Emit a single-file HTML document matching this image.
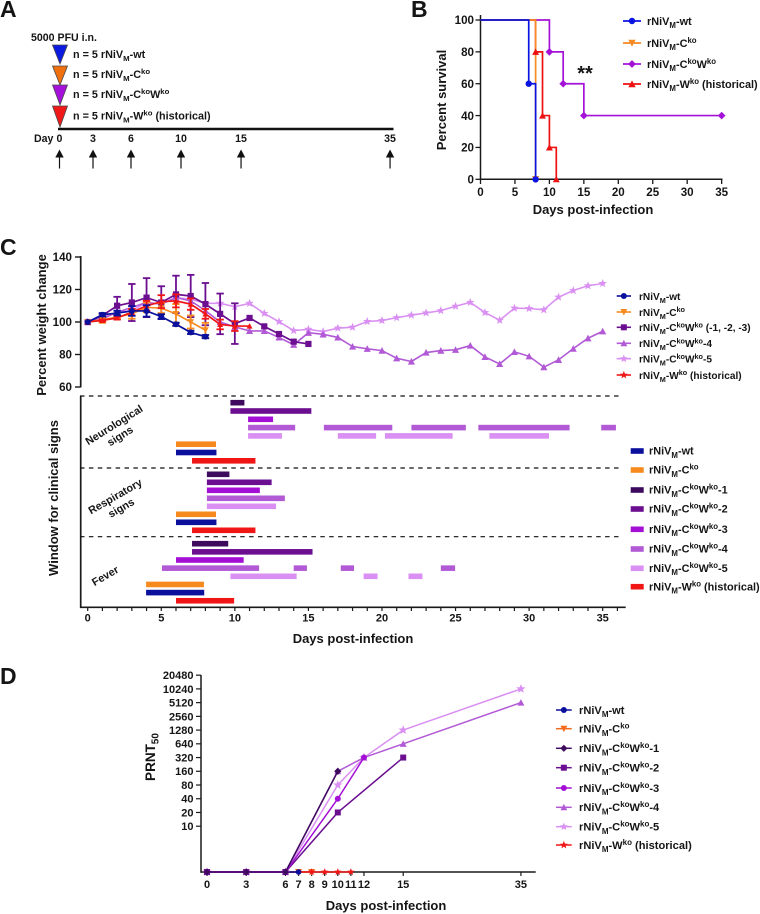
<!DOCTYPE html>
<html lang="en">
<head>
<meta charset="utf-8">
<title>Survival, weight, clinical signs and PRNT50 after rNiV infection</title>
<style>
html,body{margin:0;padding:0;background:#fff;}
svg{display:block;filter:blur(0.3px);}
text{font-family:"Liberation Sans",Arial,sans-serif;font-weight:bold;fill:#151515;}
</style>
</head>
<body>
<svg id="figure" xmlns="http://www.w3.org/2000/svg" width="760" height="914" viewBox="0 0 760 914">
<g id="panel-a"></g>
<g id="panel-b"></g>
<g id="panel-c"></g>
<g id="panel-d"></g>
</svg>
<script>
/* ---------- Panel A data ---------- */
const studyDays = [0, 3, 6, 10, 15, 35];
const studyGroups = ["n = 5 rNiV_{M}-wt", "n = 5 rNiV_{M}-C^{ko}", "n = 5 rNiV_{M}-C^{ko}W^{ko}", "n = 5 rNiV_{M}-W^{ko} (historical)"];

/* ---------- Panel B data ---------- */
const survivalTicksX = [0, 5, 10, 15, 20, 25, 30, 35];
const survivalTicksY = [0, 20, 40, 60, 80, 100];
const survivalWtDays = [0, 7, 8];
const survivalWtValues = [100, 60, 0];
const survivalCkoDays = [0, 8];
const survivalCkoValues = [100, 0];
const survivalCkoWkoDays = [0, 10, 12, 15, 35];
const survivalCkoWkoValues = [100, 80, 60, 40, 40];
const survivalWkoDays = [0, 8, 9, 10, 11];
const survivalWkoValues = [100, 80, 40, 20, 0];

/* ---------- Panel C weight data ---------- */
const weightTicksY = [60, 80, 100, 120, 140];
const weightWt = [100, 104.5, 105.5, 106.8, 106.8, 103.3, 98.6, 93.6, 91];
const weightWtErr = [0, 1, 1.5, 3, 3.5, 1.5, 1, 1, 1];
const weightCko = [100, 101.5, 103, 105, 109, 108.5, 105, 100, 95];
const weightCkoErr = [0, 2, 1, 3, 3, 3, 6, 4, 4.5];
const weightGroup123 = [100, 104, 110, 112, 115, 112, 117, 116, 111, 105, 99, 102.5, 97.3, 92.6, 87.9, 86.5];
const weightGroup123Err = [0, 1, 5.5, 11.4, 12, 10, 11.5, 13, 13, 12.5, 12.5, 0, 0, 0, 0, 0];
const weightGroup4 = [100, 102, 106, 109, 112, 111, 115, 113, 107, 100, 97, 94.5, 94.5, 90.5, 86, 93.4, 92.4, 90.5, 84.9, 83.5, 82.4, 77.7, 75.7, 81.2, 82.4, 82.9, 85.5, 78.5, 74.2, 81.6, 78.9, 72.2, 76.7, 83.6, 90, 94.3];
const weightGroup5 = [100, 103, 106, 107, 112, 111, 115, 114, 111.5, 111.5, 109.4, 111.5, 105.3, 100.2, 94.7, 95.5, 94.1, 96.2, 96.8, 100.3, 100.9, 102.7, 104.2, 105.6, 107, 109.7, 112.1, 105.8, 101.1, 108.5, 108.3, 107.5, 115.3, 119.4, 122.3, 123.7];
const weightWko = [100, 101, 102.5, 106, 110, 112.5, 113, 111, 105, 98.5, 97.5, 97.5];
const weightWkoErr = [0, 0.5, 1, 2, 3, 4, 4, 3.5, 3, 3, 3, 0];

/* ---------- Panel C clinical-sign windows (start day, end day) ---------- */
const signTicksX = [0, 5, 10, 15, 20, 25, 30, 35];
const neuroC1 = [[9.7, 10.65]];
const neuroC2 = [[9.7, 15.2]];
const neuroC3 = [[10.9, 12.6]];
const neuroC4 = [[10.9, 14.1], [16.05, 20.7], [22, 25.7], [26.55, 32.75], [34.9, 35.9]];
const neuroC5 = [[10.9, 13.2], [17, 19.6], [20.2, 24.8], [27.3, 31.35]];
const neuroCko = [[6, 8.72]];
const neuroWt = [[6, 8.75]];
const neuroWko = [[7.09, 11.4]];
const respC1 = [[8.1, 9.63]];
const respC2 = [[8.1, 12.5]];
const respC3 = [[8.1, 11.7]];
const respC4 = [[8.1, 13.4]];
const respC5 = [[8.1, 12.8]];
const respCko = [[6, 8.72]];
const respWt = [[6, 8.75]];
const respWko = [[7.09, 11.4]];
const feverC1 = [[7.09, 9.55]];
const feverC2 = [[7.09, 15.28]];
const feverC3 = [[6, 10.6]];
const feverC4 = [[5.05, 11.65], [14, 14.9], [17.2, 18.1], [24, 24.97]];
const feverC5 = [[9.7, 14.2], [18.75, 19.7], [21.8, 22.75]];
const feverCko = [[3.97, 7.9]];
const feverWt = [[3.97, 7.92]];
const feverWko = [[6, 9.95]];

/* ---------- Panel D data ---------- */
const prntTicksX = [0, 3, 6, 7, 8, 9, 10, 11, 12, 15, 35];
const prntTicksY = [10, 20, 40, 80, 160, 320, 640, 1280, 2560, 5120, 10240, 20480];
const prntWtDays = [0, 3, 6, 7];
const prntWtValues = [0, 0, 0, 0];
const prntCkoDays = [0, 3, 6, 7, 8];
const prntCkoValues = [0, 0, 0, 0, 0];
const prntC1Days = [0, 3, 6, 10];
const prntC1Values = [0, 0, 0, 160];
const prntC2Days = [0, 3, 6, 10, 15];
const prntC2Values = [0, 0, 0, 20, 320];
const prntC3Days = [0, 3, 6, 10, 12];
const prntC3Values = [0, 0, 0, 40, 320];
const prntC4Days = [0, 3, 6, 10, 12, 15, 35];
const prntC4Values = [0, 0, 0, 160, 320, 640, 5120];
const prntC5Days = [0, 3, 6, 10, 12, 15, 35];
const prntC5Values = [0, 0, 0, 80, 320, 1280, 10240];
const prntWkoDays = [0, 3, 6, 8, 9, 10, 11];
const prntWkoValues = [0, 0, 0, 0, 0, 0, 0];

/* ---------- Helpers ---------- */
const NS = "http://www.w3.org/2000/svg";
const INK = "#1a1a1a";

function make(tag, parent, name, attrs) {
  const node = document.createElementNS(NS, tag);
  for (const key in attrs) node.setAttribute(key, attrs[key]);
  
  
  parent.appendChild(node);
  return node;
}

/* Writes "a_{sub}b^{sup}" as real text with shifted tspans. */
function label(parent, name, str, x, y, size, anchor, transform) {
  const attrs = {x: x, y: y, "font-size": size, "text-anchor": anchor || "start"};
  if (transform) attrs.transform = transform;
  const node = make("text", parent, name, attrs);
  const parts = str.split(/(_\{[^}]*\}|\^\{[^}]*\})/).filter(Boolean);
  let offset = 0;
  parts.forEach(function (part) {
    const tspan = document.createElementNS(NS, "tspan");
    let target = 0;
    let content = part;
    if (part[0] === "_" && part[1] === "{") { target = size * 0.3; content = part.slice(2, -1); tspan.setAttribute("font-size", size * 0.72); }
    if (part[0] === "^" && part[1] === "{") { target = -size * 0.36; content = part.slice(2, -1); tspan.setAttribute("font-size", size * 0.72); }
    if (target !== offset) tspan.setAttribute("dy", target - offset);
    offset = target;
    tspan.textContent = content;
    node.appendChild(tspan);
  });
  return node;
}

function line(parent, name, x1, y1, x2, y2, color, width, dash) {
  const attrs = {x1: x1, y1: y1, x2: x2, y2: y2, stroke: color, "stroke-width": width};
  if (dash) attrs["stroke-dasharray"] = dash;
  return make("line", parent, name, attrs);
}

function starPoints(cx, cy, r) {
  const pts = [];
  for (let i = 0; i < 10; i++) {
    const rad = i % 2 ? r * 0.42 : r;
    const ang = -Math.PI / 2 + i * Math.PI / 5;
    pts.push((cx + rad * Math.cos(ang)).toFixed(2) + "," + (cy + rad * Math.sin(ang)).toFixed(2));
  }
  return pts.join(" ");
}

function marker(parent, name, shape, cx, cy, r, color) {
  if (shape === "circle") return make("circle", parent, name, {cx: cx, cy: cy, r: r, fill: color});
  if (shape === "square") return make("rect", parent, name, {x: cx - r, y: cy - r, width: 2 * r, height: 2 * r, fill: color});
  let pts = "";
  if (shape === "up") pts = [cx - r * 1.15, cy + r, cx, cy - r * 1.15, cx + r * 1.15, cy + r].join(" ");
  if (shape === "down") pts = [cx - r * 1.15, cy - r, cx, cy + r * 1.15, cx + r * 1.15, cy - r].join(" ");
  if (shape === "diamond") pts = [cx - r * 1.2, cy, cx, cy - r * 1.2, cx + r * 1.2, cy, cx, cy + r * 1.2].join(" ");
  if (shape === "star") pts = starPoints(cx, cy, r * 1.4);
  return make("polygon", parent, name, {points: pts, fill: color});
}

function polyline(parent, name, pts, color, width) {
  return make("polyline", parent, name, {points: pts.map(function (p) { return p[0].toFixed(2) + "," + p[1].toFixed(2); }).join(" "), fill: "none", stroke: color, "stroke-width": width, "stroke-linejoin": "miter"});
}

function legendLine(parent, prefix, text, shape, color, x1, x2, y, tx, size, r, lw) {
  const g = make("g", parent, prefix, {});
  line(g, prefix + "-line", x1, y, x2, y, color, lw);
  marker(g, prefix + "-marker", shape, (x1 + x2) / 2, y, r, color);
  label(g, prefix + "-label", text, tx, y + 3.8, size, "start");
}

/* ---------- Panel A ---------- */
(function () {
  const p = document.getElementById("panel-a");
  const xA = function (d) { return d === 0 ? 59.5 : d === 3 ? 93 : d === 6 ? 131 : 59.5 + 12.15 * d - (d === 35 ? 94.7 : d === 15 ? 0.7 : 0); };
  label(p, "panel-letter-a", "A", 0, 17, 23, "start");
  label(p, "inoculum-label", "5000 PFU i.n.", 31, 41, 10.6, "start");
  const colors = ["#0c1be0", "#f0700f", "#a412da", "#f01818"];
  const tops = [45, 66, 85, 106];
  const heights = [19, 19, 20, 21];
  const textY = [58, 78, 98, 119.5];
  studyGroups.forEach(function (g, i) {
    make("polygon", p, "inoculation-triangle-" + (i + 1), {points: [52.5, tops[i], 67.5, tops[i], 60, tops[i] + heights[i]].join(" "), fill: colors[i], stroke: "#4a4a4a", "stroke-width": 0.8});
    label(p, "study-group-label-" + (i + 1), g, 73, textY[i], 10.8, "start");
  });
  line(p, "timeline-axis", 58, 129, 393.5, 129, "#111", 2.4);
  label(p, "day-prefix", "Day", 34, 142, 10.6, "start");
  studyDays.forEach(function (d) {
    const x = xA(d);
    label(p, "day-label-" + d, String(d), x, 142, 10.6, "middle");
    line(p, "sample-arrow-shaft-" + d, x, 156, x, 168.5, "#111", 1.2);
    make("polygon", p, "sample-arrow-head-" + d, {points: [x - 4.2, 157.5, x, 149.5, x + 4.2, 157.5].join(" "), fill: "#111"});
  });
})();

/* ---------- Panel B ---------- */
(function () {
  const p = document.getElementById("panel-b");
  const xB = function (d) { return 480.5 + d * 6.89; };
  const yB = function (v) { return 179.3 - v * 1.593; };
  label(p, "panel-letter-b", "B", 411, 17, 23, "start");
  line(p, "survival-y-axis", 480.5, 15, 480.5, 180, INK, 1.5);
  line(p, "survival-x-axis", 480, 179.3, 722.5, 179.3, INK, 1.5);
  survivalTicksY.forEach(function (v) {
    line(p, "survival-y-tick-" + v, 475.5, yB(v), 480.5, yB(v), INK, 1.3);
    label(p, "survival-y-label-" + v, String(v), 474, yB(v) + 4.2, 11.6, "end");
  });
  survivalTicksX.forEach(function (d) {
    line(p, "survival-x-tick-" + d, xB(d), 179.3, xB(d), 184, INK, 1.3);
    label(p, "survival-x-label-" + d, String(d), xB(d), 196, 11.6, "middle");
  });
  label(p, "survival-y-title", "Percent survival", 446, 100, 13, "middle", "rotate(-90 446 100)");
  label(p, "survival-x-title", "Days post-infection", 593, 214, 13, "middle");
  label(p, "significance-stars", "**", 585, 80, 20, "middle");
  const series = [
    ["ckowko", survivalCkoWkoDays, survivalCkoWkoValues, "#a412d8", "diamond", 3.2],
    ["wko", survivalWkoDays, survivalWkoValues, "#ee1111", "up", 3],
    ["cko", survivalCkoDays, survivalCkoValues, "#f58a26", "down", 3.2],
    ["wt", survivalWtDays, survivalWtValues, "#0a14e0", "circle", 3.2]
  ];
  series.forEach(function (s) {
    const pts = [];
    s[1].forEach(function (d, i) {
      if (i > 0) pts.push([xB(d), yB(s[2][i - 1])]);
      pts.push([xB(d), yB(s[2][i])]);
    });
    polyline(p, "survival-line-" + s[0], pts, s[3], 1.7);
  });
  [series[2], series[1], series[0], series[3]].forEach(function (s) {
    s[1].forEach(function (d, i) {
      if (i > 0) marker(p, "survival-point-" + s[0] + "-day-" + d, s[4], xB(d), yB(s[2][i]), s[5], s[3]);
    });
  });
  const names = ["rNiV_{M}-wt", "rNiV_{M}-C^{ko}", "rNiV_{M}-C^{ko}W^{ko}", "rNiV_{M}-W^{ko} (historical)"];
  const legendSeries = [series[3], series[2], series[0], series[1]];
  const legendY = [21, 43, 64, 84];
  names.forEach(function (n, i) {
    legendLine(p, "survival-legend-entry-" + (i + 1), n, legendSeries[i][4], legendSeries[i][3], 623, 641, legendY[i], 647, 10.9, 3.2, 1.7);
  });
})();

/* ---------- Panel C ---------- */
(function () {
  const p = document.getElementById("panel-c");
  const xC = function (d) { return 87.7 + d * 14.714; };
  const yW = function (v) { return 322 - (v - 100) * 1.625; };
  const cWt = "#0a0f9c", cCko = "#f68a1e", cC1 = "#3e0a5e", cC2 = "#6b0f90", cC3 = "#a40fd6", cC4 = "#b25ad6", cC5 = "#da90f2", cWko = "#f01616";

  label(p, "panel-letter-c", "C", 0, 255, 23, "start");
  line(p, "weight-y-axis", 80.7, 256, 80.7, 387.4, INK, 1.7);
  weightTicksY.forEach(function (v) {
    line(p, "weight-y-tick-" + v, 75, yW(v), 80.7, yW(v), INK, 1.4);
    label(p, "weight-y-label-" + v, String(v), 72, yW(v) + 4.2, 11.6, "end");
  });
  label(p, "weight-y-title", "Percent weight change", 46, 325, 13, "middle", "rotate(-90 46 325)");

  const weightSeries = [
    ["group-5", weightGroup5, null, cC5, "star", 3.2, 1.6],
    ["group-4", weightGroup4, null, cC4, "up", 3.1, 1.6],
    ["group-1-2-3", weightGroup123, weightGroup123Err, cC2, "square", 3.1, 1.7],
    ["cko", weightCko, weightCkoErr, cCko, "down", 2.9, 1.6],
    ["wko", weightWko, weightWkoErr, cWko, "up", 2.6, 1.7],
    ["wt", weightWt, weightWtErr, cWt, "circle", 3, 1.7]
  ];
  weightSeries.forEach(function (s) {
    const g = make("g", p, "weight-series-" + s[0], {});
    const pts = s[1].map(function (v, d) { return [xC(d), yW(v)]; });
    polyline(g, "weight-line-" + s[0], pts, s[3], s[6]);
    s[1].forEach(function (v, d) {
      if (s[2] && s[2][d] > 0) {
        const top = yW(v + s[2][d]), bot = yW(v - s[2][d]);
        line(g, "weight-error-bar-" + s[0] + "-day-" + d, xC(d), top, xC(d), bot, s[3], 1.8);
        line(g, "weight-error-cap-top-" + s[0] + "-day-" + d, xC(d) - 3.7, top, xC(d) + 3.7, top, s[3], 1.8);
        line(g, "weight-error-cap-bottom-" + s[0] + "-day-" + d, xC(d) - 3.7, bot, xC(d) + 3.7, bot, s[3], 1.8);
      }
      marker(g, "weight-point-" + s[0] + "-day-" + d, s[4], xC(d), yW(v), s[5], s[3]);
    });
  });

  const wNames = ["rNiV_{M}-wt", "rNiV_{M}-C^{ko}", "rNiV_{M}-C^{ko}W^{ko} (-1, -2, -3)", "rNiV_{M}-C^{ko}W^{ko}-4", "rNiV_{M}-C^{ko}W^{ko}-5", "rNiV_{M}-W^{ko} (historical)"];
  const wShapes = ["circle", "down", "square", "up", "star", "star"];
  const wColors = [cWt, cCko, cC2, cC4, cC5, cWko];
  const wY = [296, 312, 327.3, 343.3, 358.7, 375];
  wNames.forEach(function (n, i) {
    legendLine(p, "weight-legend-entry-" + (i + 1), n, wShapes[i], wColors[i], 616.7, 631, wY[i], 639, 10.1, 3, 1.6);
  });

  /* Clinical signs */
  line(p, "signs-y-axis", 80.7, 396, 80.7, 608, INK, 1.7);
  line(p, "signs-x-axis", 80, 607.3, 625.7, 607.3, INK, 1.6);
  for (let d = 0; d <= 36; d++) {
    line(p, "signs-x-tick-" + d, xC(d), 607.3, xC(d), 611, INK, 1.2);
  }
  signTicksX.forEach(function (d) {
    label(p, "signs-x-label-" + d, String(d), xC(d), 621.5, 11, "middle");
  });
  [396, 468, 536.7].forEach(function (y, i) {
    line(p, "group-separator-" + (i + 1), 80, y, 619, y, "#111", 1.2, "4.5 4.4");
  });
  label(p, "signs-y-title", "Window for clinical signs", 58, 498, 13, "middle", "rotate(-90 58 498)");
  label(p, "neurological-label", "Neurological", 116, 428, 10.8, "middle", "rotate(-32 116 428)");
  label(p, "neurological-signs-label", "signs", 122, 439, 10.8, "middle", "rotate(-32 122 439)");
  label(p, "respiratory-label", "Respiratory", 117, 499.5, 10.8, "middle", "rotate(-30 117 499.5)");
  label(p, "respiratory-signs-label", "signs", 123, 511, 10.8, "middle", "rotate(-30 123 511)");
  label(p, "fever-label", "Fever", 107, 579, 10.8, "middle", "rotate(-30 107 579)");

  const rowColors = [cC1, cC2, cC3, cC4, cC5, cCko, cWt, cWko];
  const rowNames = ["c1", "c2", "c3", "c4", "c5", "cko", "wt", "wko"];
  const groups = [
    ["neuro", 402.7, 8.3, [neuroC1, neuroC2, neuroC3, neuroC4, neuroC5, neuroCko, neuroWt, neuroWko]],
    ["resp", 474.3, 8.0, [respC1, respC2, respC3, respC4, respC5, respCko, respWt, respWko]],
    ["fever", 543.7, 8.15, [feverC1, feverC2, feverC3, feverC4, feverC5, feverCko, feverWt, feverWko]]
  ];
  groups.forEach(function (g) {
    g[3].forEach(function (windows, row) {
      windows.forEach(function (w, i) {
        make("rect", p, "window-" + g[0] + "-" + rowNames[row] + "-" + (i + 1), {x: xC(w[0]), y: g[1] + g[2] * row - 2.8, width: xC(w[1]) - xC(w[0]), height: 5.6, fill: rowColors[row]});
      });
    });
  });
  label(p, "signs-x-title", "Days post-infection", 353, 643, 13, "middle");

  const sNames = ["rNiV_{M}-wt", "rNiV_{M}-C^{ko}", "rNiV_{M}-C^{ko}W^{ko}-1", "rNiV_{M}-C^{ko}W^{ko}-2", "rNiV_{M}-C^{ko}W^{ko}-3", "rNiV_{M}-C^{ko}W^{ko}-4", "rNiV_{M}-C^{ko}W^{ko}-5", "rNiV_{M}-W^{ko} (historical)"];
  const sColors = [cWt, cCko, cC1, cC2, cC3, cC4, cC5, cWko];
  const sY = [451, 470, 490, 509, 529.3, 549, 568.3, 586.7];
  sNames.forEach(function (n, i) {
    const g = make("g", p, "signs-legend-entry-" + (i + 1), {});
    make("rect", g, "signs-legend-swatch-" + (i + 1), {x: 630.7, y: sY[i] - 2.8, width: 13, height: 5.6, fill: sColors[i]});
    label(g, "signs-legend-label-" + (i + 1), n, 649, sY[i] + 3.6, 10.9, "start");
  });
})();

/* ---------- Panel D ---------- */
(function () {
  const p = document.getElementById("panel-d");
  const xD = function (d) { return 207 + 13.08 * (d <= 15 ? d : 15 + (d - 15) * 9 / 20); };
  const yD = function (v) { return v <= 0 ? 872 : 826.2 - Math.log2(v / 10) * 13.73; };
  const cWt = "#0a0f9c", cCko = "#f26a1e", cC1 = "#3e0a5e", cC2 = "#6b0f90", cC3 = "#a40fd6", cC4 = "#b25ad6", cC5 = "#da90f2", cWko = "#f01616";
  label(p, "panel-letter-d", "D", 0, 684, 23, "start");
  line(p, "prnt-y-axis", 201, 675, 201, 872.8, INK, 1.5);
  line(p, "prnt-x-axis", 200.5, 872, 535.7, 872, INK, 1.6);
  prntTicksY.forEach(function (v) {
    line(p, "prnt-y-tick-" + v, 196, yD(v), 201, yD(v), INK, 1.2);
    label(p, "prnt-y-label-" + v, String(v), 193.5, yD(v) + 3.9, 11, "end");
  });
  prntTicksX.forEach(function (d) {
    line(p, "prnt-x-tick-" + d, xD(d), 872, xD(d), 876, INK, 1.2);
    label(p, "prnt-x-label-" + d, String(d), xD(d), 888, 11, "middle");
  });
  const tt = make("text", p, "prnt-y-title", {x: 155, y: 757, "font-size": 13.5, "text-anchor": "middle", transform: "rotate(-90 155 757)"});
  tt.textContent = "PRNT";
  const sub = document.createElementNS(NS, "tspan");
  sub.setAttribute("font-size", "10");
  sub.setAttribute("dy", "3.5");
  sub.textContent = "50";
  tt.appendChild(sub);
  label(p, "prnt-x-title", "Days post-infection", 386, 910, 13, "middle");

  const series = [
    ["cko", prntCkoDays, prntCkoValues, cCko, "down", 3],
    ["wko", prntWkoDays, prntWkoValues, cWko, "star", 2.8],
    ["wt", prntWtDays, prntWtValues, cWt, "circle", 2.8],
    ["c5", prntC5Days, prntC5Values, cC5, "star", 3.5],
    ["c4", prntC4Days, prntC4Values, cC4, "up", 3],
    ["c2", prntC2Days, prntC2Values, cC2, "square", 3],
    ["c3", prntC3Days, prntC3Values, cC3, "circle", 3],
    ["c1", prntC1Days, prntC1Values, cC1, "diamond", 3]
  ];
  series.forEach(function (s) {
    const g = make("g", p, "prnt-series-" + s[0], {});
    polyline(g, "prnt-line-" + s[0], s[1].map(function (d, i) { return [xD(d), yD(s[2][i])]; }), s[3], 1.5);
    s[1].forEach(function (d, i) {
      marker(g, "prnt-point-" + s[0] + "-day-" + d, s[4], xD(d), yD(s[2][i]), s[5], s[3]);
    });
  });

  const names = ["rNiV_{M}-wt", "rNiV_{M}-C^{ko}", "rNiV_{M}-C^{ko}W^{ko}-1", "rNiV_{M}-C^{ko}W^{ko}-2", "rNiV_{M}-C^{ko}W^{ko}-3", "rNiV_{M}-C^{ko}W^{ko}-4", "rNiV_{M}-C^{ko}W^{ko}-5", "rNiV_{M}-W^{ko} (historical)"];
  const shapes = ["circle", "down", "diamond", "square", "circle", "up", "star", "star"];
  const colors = [cWt, cCko, cC1, cC2, cC3, cC4, cC5, cWko];
  const ys = [710, 728.7, 748.3, 767.7, 788, 807.3, 826.7, 845];
  names.forEach(function (n, i) {
    legendLine(p, "prnt-legend-entry-" + (i + 1), n, shapes[i], colors[i], 556, 571.7, ys[i], 579, 11.1, 3, 1.5);
  });
})();
</script>
</body>
</html>
